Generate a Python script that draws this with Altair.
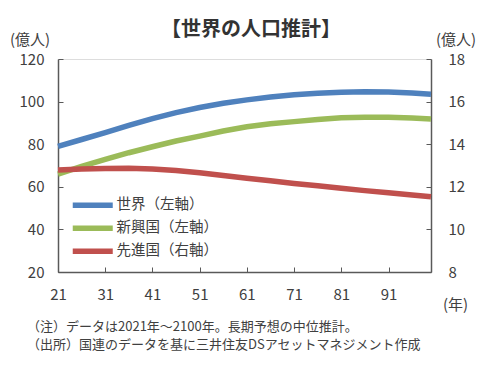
import altair as alt
import pandas as pd

years = [2021, 2026, 2031, 2036, 2041, 2046, 2051, 2056, 2061, 2066, 2071, 2076, 2081, 2086, 2091, 2096, 2100]
world = [79.0, 82.2, 85.4, 88.8, 92.0, 94.8, 97.2, 99.2, 100.8, 102.2, 103.2, 103.9, 104.4, 104.6, 104.5, 104.0, 103.4]
emerging = [66.0, 69.6, 72.9, 76.0, 78.8, 81.5, 83.8, 86.2, 88.2, 89.6, 90.6, 91.6, 92.4, 92.6, 92.6, 92.3, 91.8]
developed = [12.79, 12.83, 12.86, 12.87, 12.83, 12.76, 12.66, 12.53, 12.40, 12.28, 12.16, 12.05, 11.93, 11.82, 11.72, 11.62, 11.53]

series = ["世界（左軸）", "新興国（左軸）", "先進国（右軸）"]
colors = ["#4F81BD", "#9BBB59", "#C0504D"]
x_ticks = [2021, 2031, 2041, 2051, 2061, 2071, 2081, 2091]
left_ticks = [20, 40, 60, 80, 100, 120]
right_ticks = [8, 10, 12, 14, 16, 18]
title_text = "【世界の人口推計】"
unit_text = "(億人)"
year_text = "(年)"
notes = ["（注）データは2021年～2100年。長期予想の中位推計。",
         "（出所）国連のデータを基に三井住友DSアセットマネジメント作成"]

FONT = "Noto Sans CJK JP"
TXT = "#404040"
AX = "#595959"

n = len(years)
left_df = pd.DataFrame({
    "year": years + years,
    "value": world + emerging,
    "series": [series[0]] * n + [series[1]] * n,
})
right_df = pd.DataFrame({"year": years, "value": developed, "series": [series[2]] * n})

color = alt.Color(
    "series:N",
    scale=alt.Scale(domain=series, range=colors),
    legend=alt.Legend(
        orient="none", legendX=27.5, legendY=139, title=None,
        symbolType="M-5,0H5", symbolSize=64, symbolStrokeWidth=5.5,
        labelFont=FONT, labelFontSize=14.5, labelColor=TXT, labelOffset=16.5,
        rowPadding=0,
    ),
)

x = alt.X(
    "year:Q",
    scale=alt.Scale(domain=[2021, 2100], nice=False, zero=False),
    axis=alt.Axis(
        values=x_ticks, format="d", labelExpr="substring(datum.label, 2)", labelFlush=False,
        title=year_text, titleX=397, titleY=32, titleAlign="center", titleBaseline="middle",
        titleFont=FONT, titleFontSize=15, titleFontWeight="normal", titleColor=TXT,
        labelFont=FONT, labelFontSize=15, labelColor=TXT, labelPadding=20,
        tickSize={"expr": "-5"}, tickColor=AX, domainColor=AX, domainWidth=1.5, grid=False,
    ),
)

left = alt.Chart(left_df).mark_line(strokeWidth=5.5).encode(
    x=x,
    y=alt.Y(
        "value:Q",
        scale=alt.Scale(domain=[20, 120], nice=False, zero=False),
        axis=alt.Axis(
            orient="left", values=left_ticks,
            title=unit_text, titleAngle=0, titleX=-28.5, titleY=-20,
            titleAlign="center", titleBaseline="middle",
            titleFont=FONT, titleFontSize=15, titleFontWeight="normal", titleColor=TXT,
            labelFont=FONT, labelFontSize=15, labelColor=TXT, labelPadding=19,
            tickSize={"expr": "-5"}, tickColor=AX, domainColor=AX, domainWidth=1.5, grid=False,
        ),
    ),
    color=color,
)

right = alt.Chart(right_df).mark_line(strokeWidth=5.5).encode(
    x=alt.X("year:Q"),
    y=alt.Y(
        "value:Q",
        scale=alt.Scale(domain=[8, 18], nice=False, zero=False),
        axis=alt.Axis(
            orient="right", values=right_ticks,
            title=unit_text, titleAngle=0, titleX=24.5, titleY=-20,
            titleAlign="center", titleBaseline="middle",
            titleFont=FONT, titleFontSize=15, titleFontWeight="normal", titleColor=TXT,
            labelFont=FONT, labelFontSize=15, labelColor=TXT, labelPadding=22,
            tickSize={"expr": "-5"}, tickColor=AX, domainColor=AX, domainWidth=1.5, grid=False,
        ),
    ),
    color=color,
)

title_layer = alt.Chart(pd.DataFrame({"t": [title_text]})).mark_text(
    font=FONT, fontSize=20, fontWeight="bold", color="#333333", align="center", baseline="middle"
).encode(text="t:N", x=alt.value(193), y=alt.value(-29))

note_layers = []
for i, t in enumerate(notes):
    note_layers.append(
        alt.Chart(pd.DataFrame({"t": [t]})).mark_text(
            font=FONT, fontSize=13, color=TXT, align="left", baseline="middle"
        ).encode(text="t:N", x=alt.value(-31), y=alt.value(268 + 18 * i))
    )

chart = alt.layer(left, right, title_layer, *note_layers).resolve_scale(y="independent").properties(
    width=373,
    height=213,
    padding={"left": 50, "top": 51, "right": 59, "bottom": 106},
    autosize=alt.AutoSizeParams(type="none"),
).configure_view(stroke=AX, strokeWidth=1.5).configure(background="white")

chart.save("out.html", embed_options={"renderer": "svg", "actions": False})
